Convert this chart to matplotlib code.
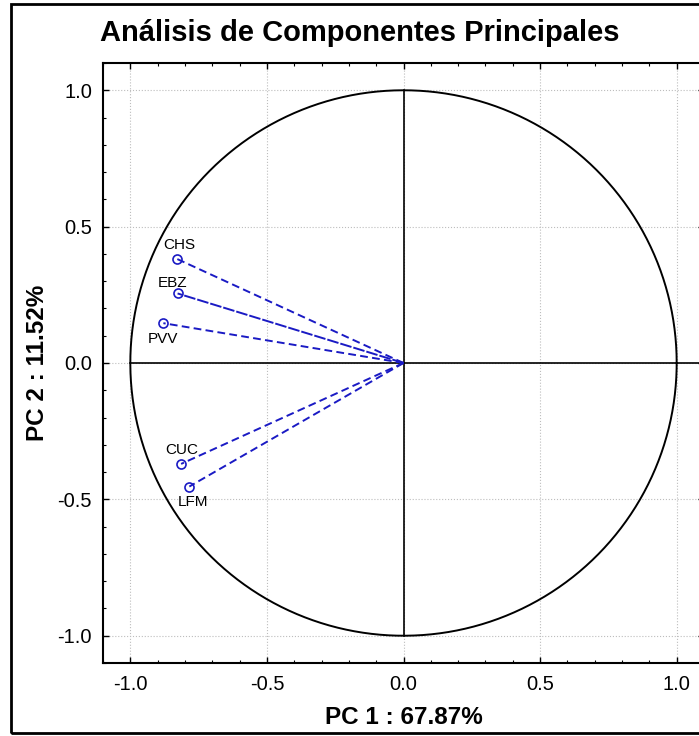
import numpy as np
import matplotlib
matplotlib.use("Agg")
import matplotlib.pyplot as plt
from matplotlib.patches import Rectangle
from matplotlib.ticker import MultipleLocator

plt.rcParams['font.family'] = ['Liberation Sans', 'DejaVu Sans']

# ---- data ----
variables = ["CHS", "EBZ", "PVV", "CUC", "LFM"]
pc1 = [-0.830, -0.827, -0.879, -0.814, -0.784]
pc2 = [0.382, 0.255, 0.146, -0.370, -0.453]
title = "Análisis de Componentes Principales"
xlab = "PC 1 : 67.87%"
ylab = "PC 2 : 11.52%"
ticks = [-1.0, -0.5, 0.0, 0.5, 1.0]
tick_labels = ["-1.0", "-0.5", "0.0", "0.5", "1.0"]

# label offsets (pixels) for the variable names
label_off = [(3, 14), (-5, 10), (0, -16), (1, 14), (4, -15)]

W, H = 699, 736
fig = plt.figure(figsize=(W / 100, H / 100), dpi=100)
fig.patch.set_facecolor("white")

# outer border (right side cropped)
fig.patches.append(Rectangle((11 / W, 3 / H), 1.2, (732 - 3) / H,
                             transform=fig.transFigure, fill=False,
                             edgecolor="black", linewidth=2.0, zorder=0))

ax = fig.add_axes([103 / W, (H - 663) / H, (704 - 103) / W, 600 / H])
ax.set_xlim(-1.1, 1.1)
ax.set_ylim(-1.1, 1.1)

blue = "#1a1ac4"

# grid
ax.set_xticks(ticks)
ax.set_yticks(ticks)
ax.set_xticklabels(tick_labels)
ax.set_yticklabels(tick_labels)
ax.xaxis.set_minor_locator(MultipleLocator(0.1))
ax.yaxis.set_minor_locator(MultipleLocator(0.1))
ax.grid(True, which="major", linestyle=":", color="#bdbdbd", linewidth=0.8)
ax.set_axisbelow(True)
ax.tick_params(which="both", direction="in", top=True, right=True,
               labelsize=14.5, colors="black")
ax.tick_params(which="major", length=4, width=1.0)
ax.tick_params(which="minor", length=2, width=0.8)
ax.tick_params(axis="x", pad=9)
ax.tick_params(axis="y", pad=8)
for s in ax.spines.values():
    s.set_linewidth(1.5)

# unit circle
t = np.linspace(0, 2 * np.pi, 600)
ax.plot(np.cos(t), np.sin(t), color="black", linewidth=1.4, zorder=3)
# axes lines
ax.plot([0, 0], [-1, 1], color="black", linewidth=1.2, zorder=3)
ax.plot([-1, 1.1], [0, 0], color="black", linewidth=1.2, zorder=3)

# loadings
for i, name in enumerate(variables):
    dash = (6, 1) if name == "EBZ" else (4, 2.2)
    ax.plot([0, pc1[i]], [0, pc2[i]], color=blue, linewidth=1.4,
            linestyle=(0, dash), zorder=4)
    ax.plot(pc1[i], pc2[i], marker="o", markersize=6.5, markerfacecolor="none",
            markeredgecolor=blue, markeredgewidth=1.2, zorder=5)
    ax.annotate(name, (pc1[i], pc2[i]), xytext=label_off[i],
                textcoords="offset pixels", ha="center", va="center",
                fontsize=11, color="black", zorder=6)

ax.set_xlabel(xlab, fontsize=17.5, fontweight="bold", labelpad=8)
ax.set_ylabel(ylab, fontsize=17.5, fontweight="bold", labelpad=6)

fig.text(360 / W, (H - 33) / H, title, ha="center", va="center",
         fontsize=21, fontweight="bold")

fig.savefig("out.png", dpi=100)
